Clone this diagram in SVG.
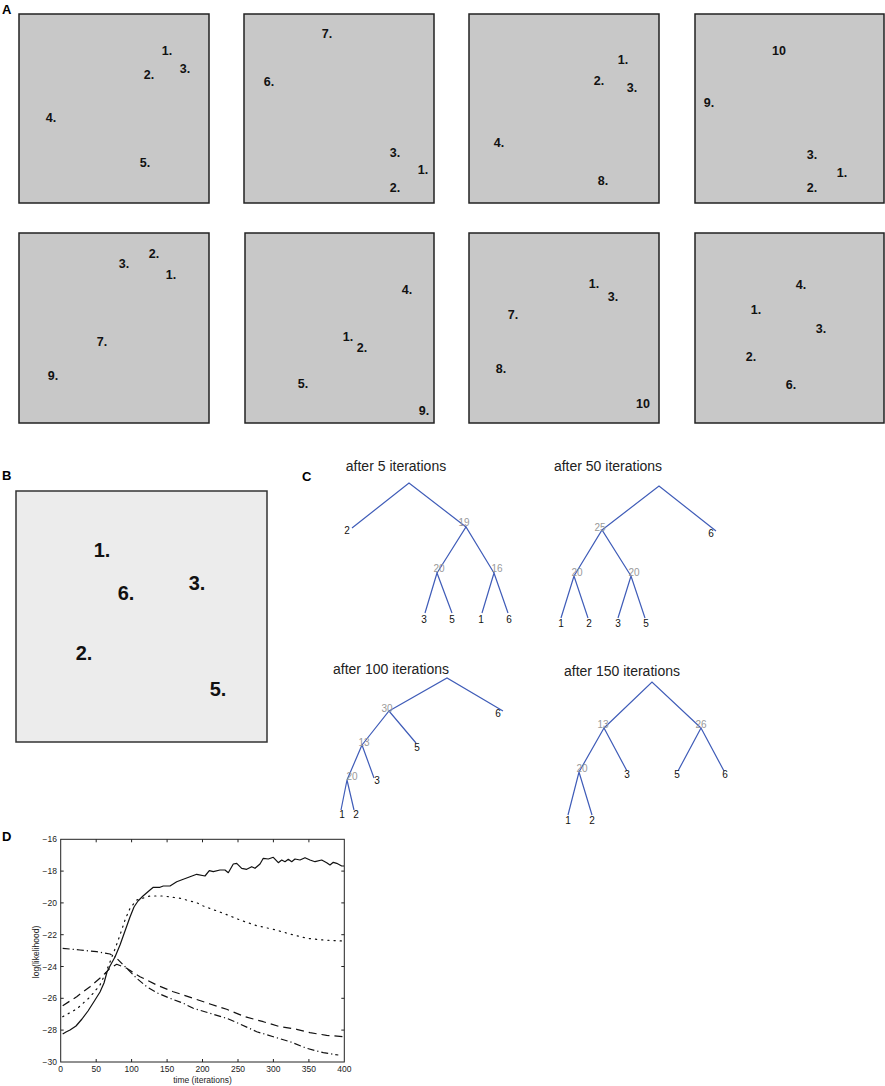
<svg xmlns="http://www.w3.org/2000/svg" width="885" height="1086" viewBox="0 0 885 1086">
<style>
.bg{fill:#ffffff}
.boxA{fill:#c8c8c8;stroke:#222;stroke-width:1.5}
.boxB{fill:#ececec;stroke:#333;stroke-width:1.5}
.la{font-family:"Liberation Sans",Arial,sans-serif;font-weight:bold;font-size:12.5px;fill:#111;text-anchor:middle}
.lb{font-family:"Liberation Sans",Arial,sans-serif;font-weight:bold;font-size:20px;fill:#111;text-anchor:middle}
.pl{font-family:"Liberation Sans",Arial,sans-serif;font-weight:bold;font-size:13px;fill:#000}
.tt{font-family:"Liberation Sans",Arial,sans-serif;font-size:14px;fill:#222;text-anchor:middle}
.leaf{font-family:"Liberation Sans",Arial,sans-serif;font-size:10px;fill:#111;text-anchor:middle}
.inner{font-family:"Liberation Sans",Arial,sans-serif;font-size:10px;fill:#999;text-anchor:middle}
.edge{stroke:#3f5cb8;stroke-width:1.2;fill:none}
.ax{fill:none;stroke:#222;stroke-width:1}
.tk{font-family:"Liberation Sans",Arial,sans-serif;font-size:8.5px;fill:#222}
.curve{fill:none;stroke:#111;stroke-width:1.2;stroke-linejoin:round}
</style>
<rect class="bg" x="0" y="0" width="885" height="1086"/>

<g id="panelA">
<text class="pl" x="2" y="14">A</text>
<g id="a1"><rect class="boxA" x="19" y="14" width="190" height="189"/>
<text class="la" x="167" y="55">1.</text><text class="la" x="149" y="79">2.</text><text class="la" x="185" y="73">3.</text><text class="la" x="51" y="122">4.</text><text class="la" x="145" y="167">5.</text></g>
<g id="a2"><rect class="boxA" x="244" y="14" width="190" height="189"/>
<text class="la" x="327" y="38">7.</text><text class="la" x="269" y="86">6.</text><text class="la" x="395" y="157">3.</text><text class="la" x="423" y="174">1.</text><text class="la" x="395" y="192">2.</text></g>
<g id="a3"><rect class="boxA" x="469" y="14" width="190" height="189"/>
<text class="la" x="623" y="64">1.</text><text class="la" x="599" y="85">2.</text><text class="la" x="632" y="92">3.</text><text class="la" x="499" y="147">4.</text><text class="la" x="603" y="185">8.</text></g>
<g id="a4"><rect class="boxA" x="695" y="14" width="189" height="189"/>
<text class="la" x="779" y="55">10</text><text class="la" x="709" y="107">9.</text><text class="la" x="812" y="159">3.</text><text class="la" x="842" y="177">1.</text><text class="la" x="812" y="192">2.</text></g>
<g id="a5"><rect class="boxA" x="19" y="233" width="190" height="190"/>
<text class="la" x="154" y="258">2.</text><text class="la" x="124" y="268">3.</text><text class="la" x="171" y="279">1.</text><text class="la" x="102" y="346">7.</text><text class="la" x="53" y="380">9.</text></g>
<g id="a6"><rect class="boxA" x="245" y="233" width="189" height="190"/>
<text class="la" x="407" y="294">4.</text><text class="la" x="348" y="341">1.</text><text class="la" x="362" y="352">2.</text><text class="la" x="303" y="388">5.</text><text class="la" x="424" y="415">9.</text></g>
<g id="a7"><rect class="boxA" x="469" y="233" width="190" height="190"/>
<text class="la" x="594" y="288">1.</text><text class="la" x="613" y="301">3.</text><text class="la" x="513" y="319">7.</text><text class="la" x="501" y="373">8.</text><text class="la" x="643" y="408">10</text></g>
<g id="a8"><rect class="boxA" x="695" y="233" width="189" height="190"/>
<text class="la" x="801" y="289">4.</text><text class="la" x="756" y="314">1.</text><text class="la" x="821" y="333">3.</text><text class="la" x="751" y="361">2.</text><text class="la" x="791" y="389">6.</text></g>
</g>

<g id="panelB">
<text class="pl" x="2" y="480">B</text>
<rect class="boxB" x="16" y="491" width="251" height="251"/>
<text class="lb" x="102" y="557">1.</text>
<text class="lb" x="126" y="600">6.</text>
<text class="lb" x="197" y="590">3.</text>
<text class="lb" x="84" y="660">2.</text>
<text class="lb" x="218" y="696">5.</text>
</g>

<text class="pl" x="302" y="481">C</text>
<g id="connectors">
<!-- tree 1 -->
<polyline class="edge" points="352,528 409,483 466,527"/>
<polyline class="edge" points="437,573 466,527 494,573"/>
<polyline class="edge" points="425,613 437,573 452,613"/>
<polyline class="edge" points="482,613 494,573 508,613"/>
<!-- tree 2 -->
<polyline class="edge" points="602,530 659,486 716,531"/>
<polyline class="edge" points="574,576 602,530 631,576"/>
<polyline class="edge" points="561,618 574,576 588,618"/>
<polyline class="edge" points="618,618 631,576 645,618"/>
<!-- tree 3 -->
<polyline class="edge" points="389,711 447,678 503,711"/>
<polyline class="edge" points="362,745 389,711 416,743"/>
<polyline class="edge" points="347,780 362,745 374,778"/>
<polyline class="edge" points="341,810 347,780 354,810"/>
<!-- tree 4 -->
<polyline class="edge" points="604,728 652,682 701,728"/>
<polyline class="edge" points="579,772 604,728 627,771"/>
<polyline class="edge" points="678,771 701,728 724,771"/>
<polyline class="edge" points="568,815 579,772 592,815"/>
</g>

<g id="tree1">
<text class="tt" x="396" y="471">after 5 iterations</text>
<text class="leaf" x="347" y="534">2</text>
<text class="inner" x="464" y="526">19</text>
<text class="inner" x="439" y="572">20</text>
<text class="inner" x="497" y="572">16</text>
<text class="leaf" x="424" y="623">3</text><text class="leaf" x="452" y="623">5</text><text class="leaf" x="481" y="623">1</text><text class="leaf" x="509" y="623">6</text>
</g>
<g id="tree2">
<text class="tt" x="608" y="471">after 50 iterations</text>
<text class="leaf" x="711" y="537">6</text>
<text class="inner" x="600" y="531">25</text>
<text class="inner" x="577" y="576">20</text>
<text class="inner" x="634" y="576">20</text>
<text class="leaf" x="561" y="627">1</text><text class="leaf" x="589" y="627">2</text><text class="leaf" x="618" y="627">3</text><text class="leaf" x="646" y="627">5</text>
</g>
<g id="tree3">
<text class="tt" x="391" y="674">after 100 iterations</text>
<text class="leaf" x="498" y="717">6</text>
<text class="inner" x="387" y="712">30</text>
<text class="leaf" x="417" y="751">5</text>
<text class="inner" x="364" y="746">13</text>
<text class="leaf" x="377" y="784">3</text>
<text class="inner" x="352" y="780">20</text>
<text class="leaf" x="342" y="818">1</text><text class="leaf" x="356" y="818">2</text>
</g>
<g id="tree4">
<text class="tt" x="622" y="676">after 150 iterations</text>
<text class="inner" x="603" y="728">13</text>
<text class="inner" x="701" y="728">26</text>
<text class="inner" x="582" y="772">20</text>
<text class="leaf" x="627" y="778">3</text><text class="leaf" x="677" y="778">5</text><text class="leaf" x="725" y="778">6</text>
<text class="leaf" x="568" y="824">1</text><text class="leaf" x="592" y="824">2</text>
</g>

<g id="panelD">
<text class="pl" x="2" y="841">D</text>
<rect class="ax" x="60.7" y="839.3" width="283.6" height="222.7"/>
<g stroke="#222" stroke-width="1">
<path d="M60.7 871.1h3M60.7 902.9h3M60.7 934.7h3M60.7 966.5h3M60.7 998.3h3M60.7 1030.1h3M344.3 871.1h-3M344.3 902.9h-3M344.3 934.7h-3M344.3 966.5h-3M344.3 998.3h-3M344.3 1030.1h-3"/>
<path d="M96.2 1062v-3M131.6 1062v-3M167.1 1062v-3M202.5 1062v-3M238 1062v-3M273.4 1062v-3M308.9 1062v-3M96.2 839.3v3M131.6 839.3v3M167.1 839.3v3M202.5 839.3v3M238 839.3v3M273.4 839.3v3M308.9 839.3v3"/>
</g>
<g class="tk" text-anchor="end">
<text x="57" y="842.3">−16</text><text x="57" y="874.1">−18</text><text x="57" y="905.9">−20</text><text x="57" y="937.7">−22</text><text x="57" y="969.5">−24</text><text x="57" y="1001.3">−26</text><text x="57" y="1033.1">−28</text><text x="57" y="1065">−30</text>
</g>
<g class="tk" text-anchor="middle">
<text x="60.7" y="1072">0</text><text x="96.2" y="1072">50</text><text x="131.6" y="1072">100</text><text x="167.1" y="1072">150</text><text x="202.5" y="1072">200</text><text x="238" y="1072">250</text><text x="273.4" y="1072">300</text><text x="308.9" y="1072">350</text><text x="344.3" y="1072">400</text>
<text x="202.5" y="1083">time (iterations)</text>
<text transform="translate(38.5 952) rotate(-90)">log(likelihood)</text>
</g>
<polyline class="curve" points="62.7,1034 66,1032 70,1030 76,1026 82,1019 88,1011 95,1000 100,992 104,983 107,972 110,966 115,957 120,945 125,931 130,917 134,907 138,901 143,896 150,890 153.3,887.3 160,887.3 163.3,886 170,886 176.7,881.7 183.3,879.3 190,876.7 196.7,874.3 205,876 209.3,870.7 213.3,871.7 220,870 225,870 228.3,872.7 233.3,864 236.7,863.3 241.7,868.3 246.7,869.3 251.7,866.7 255,868.3 260,864 263.3,858.3 268.3,859 273.3,857.3 278.3,862.7 281.7,860 285,861.7 288.3,859.3 291.7,861.7 295,859 300,860 305,857.7 310,860 315,861.7 321.7,860 326.7,862.7 330,865 333.3,862.3 336.7,863.3 341.7,866 344,866"/>
<polyline class="curve" stroke-dasharray="1.2 5" stroke-linecap="round" points="62.7,1016.7 76.7,1009 90,997 100,985 106,972 110,962 115,949 120,935 125,920 130,908.3 136.7,900 150,896 163.3,896 180,898.3 196.7,902.7 203.3,906 223.3,913.3 240,920 256.7,925.7 273.3,929.3 290,934 306.7,938.3 323.3,940 342,941"/>
<polyline class="curve" stroke-dasharray="8 5" points="62.7,1005.7 76.7,996.7 90,986.7 101.7,976.7 110,968.3 116.7,964.3 126.7,968.3 140,976.7 156.7,985 173.3,991.7 193.3,998.3 210,1004 226.7,1009.3 245,1016.7 263.3,1021.7 280,1026.7 296.7,1029.3 310,1032.7 326.7,1035.3 343,1036.7"/>
<polyline class="curve" stroke-dasharray="7 3 1.2 3" points="62.7,948.3 80,950 96.7,951.7 110,954 116.7,958.3 126.7,968.3 136.7,978.3 146.7,986.7 156.7,992.7 170,998.3 183.3,1003.3 193.3,1008.3 210,1013.3 226.7,1018.3 240,1024 256.7,1031.7 273.3,1036.7 290,1041.7 306.7,1048.3 323.3,1052.7 338.3,1055"/>
</g>
</svg>
